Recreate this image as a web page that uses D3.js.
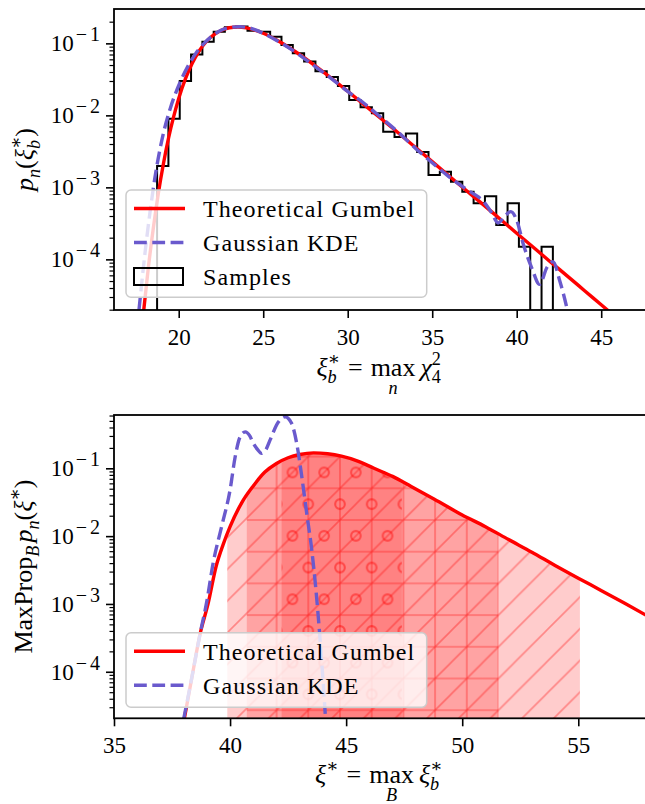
<!DOCTYPE html>
<meta charset="utf-8">
<style>
  body { margin: 0; background: #fff; }
  svg text { font-family: "Liberation Serif", "DejaVu Serif", serif; fill: #000; }
</style>
<script src="https://d3js.org/d3.v7.min.js"></script>
<svg id="chart" width="645" height="804"></svg>
<script>

// ---- top panel: histogram of samples (density), bin edges
var histEdges = [18.72, 19.39, 20.06, 20.73, 21.40, 22.07, 22.73, 23.40, 24.07, 24.74, 25.41, 26.08,
  26.75, 27.42, 28.09, 28.76, 29.42, 30.09, 30.76, 31.43, 32.10, 32.77, 33.44, 34.11, 34.78, 35.45,
  36.11, 36.78, 37.45, 38.12, 38.79, 39.46, 40.13, 40.80, 41.47, 42.14];
var histDensity = [0.00198, 0.0090, 0.030, 0.070, 0.105, 0.145, 0.168, 0.172, 0.150, 0.145, 0.124,
  0.095, 0.073, 0.056, 0.041, 0.034, 0.0255, 0.0163, 0.0130, 0.0107, 0.0059, 0.0050, 0.0056, 0.0031,
  0.00148, 0.00165, 0.0012, 0.00087, 0.0006, 0.00075, 0.0003, 0.0006, 0.00015, 0, 0.00015];

// theoretical gumbel, top
var gumTopX = [17.9, 18.2, 18.5, 18.8, 19.1, 19.4, 19.7, 20.0, 20.4, 20.8, 21.2, 21.6, 22.0, 22.5, 23.0,
  23.5, 24.0, 24.5, 25, 26, 27, 28, 29, 30, 31, 32, 33, 34, 35, 36, 37, 38, 39, 40, 41, 42, 43, 44, 45, 46];
var gumTopY = [1.7e-5, 7.6e-5, 2.75e-4, 8.4e-4, 2.16e-3, 4.85e-3, 9.6e-3, 0.0172, 0.0324, 0.0531, 0.0778,
  0.1036, 0.1275, 0.1512, 0.1649, 0.1687, 0.1639, 0.1527, 0.1379, 0.1044, 0.0740, 0.0503, 0.0333, 0.0216,
  0.0139, 0.0089, 0.0057, 0.0036, 0.00228, 0.00144, 0.00091, 0.00058, 0.000366, 0.000231, 0.000146,
  0.000092, 0.0000585, 0.000037, 0.0000234, 0.0000148];

// gaussian kde, top
var kdeTopX = [17.65, 18.0, 18.3, 18.6, 19.0, 19.5, 20.0, 20.5, 21.0, 21.5, 22.0, 22.5, 23.0, 23.6, 24.2,
  25, 26, 27, 28, 29, 30, 31, 32, 33, 34, 35, 36, 37, 37.5, 38.0, 38.5, 38.9, 39.3, 39.65, 40.0, 40.4,
  40.9, 41.35, 41.8, 42.15, 42.55, 42.95, 43.1];
var kdeTopY = [2e-5, 1.2e-4, 4.5e-4, 1.4e-3, 4.5e-3, 0.0125, 0.026, 0.046, 0.072, 0.1, 0.128, 0.152, 0.166,
  0.17, 0.163, 0.138, 0.103, 0.073, 0.049, 0.033, 0.0215, 0.0145, 0.0092, 0.0058, 0.0035, 0.0022, 0.0014,
  0.00095, 0.0008, 0.00065, 0.00045, 0.00032, 0.0004, 0.00046, 0.00035, 0.00016, 0.000075, 0.000045,
  0.000078, 0.000093, 0.00005, 0.000022, 0.000015];

// ---- bottom panel
var gumBotX = [38.0, 38.4, 38.7, 39.05, 39.4, 39.7, 40.0, 40.5, 41.0, 41.5, 42.0, 42.5, 43.0, 43.6, 44.2,
  44.8, 45.5, 46.2, 47.0, 47.8, 48.8, 50.0, 51.0, 52.0, 53.0, 54.0, 55.0, 56.0, 57.0, 58.0];
var gumBotY = [1.8e-5, 1e-4, 3.5e-4, 1e-3, 3.6e-3, 7.5e-3, 0.0138, 0.031, 0.055, 0.088, 0.118, 0.143, 0.16,
  0.169, 0.164, 0.151, 0.128, 0.1, 0.076, 0.054, 0.035, 0.0205, 0.0138, 0.0089, 0.0058, 0.0037, 0.0024,
  0.00157, 0.00102, 0.00066];

var kdeBotX = [38.0, 38.4, 38.7, 39.0, 39.27, 39.64, 40.0, 40.22, 40.43, 40.65, 40.85, 41.0, 41.18, 41.36,
  41.55, 41.72, 42.08, 42.37, 42.65, 42.87, 43.09, 43.3, 43.52, 43.7, 43.88, 44.1];
var kdeBotY = [2e-5, 1e-4, 3.5e-4, 1.1e-3, 4e-3, 0.014, 0.048, 0.148, 0.29, 0.345, 0.3, 0.234, 0.19, 0.166,
  0.19, 0.26, 0.48, 0.575, 0.46, 0.234, 0.075, 0.022, 0.0062, 0.0016, 0.00029, 0.000024];

// shaded intervals and their hatches
var bandStart = [39.88, 40.72, 42.22];
var bandEnd = [55.07, 51.56, 47.4];
var bandHatch = ["diag", "cross", "circ"];

var xTicksTop = [20, 25, 30, 35, 40, 45];
var xTicksBot = [35, 40, 45, 50, 55];
var yTicks = [1e-4, 1e-3, 1e-2, 1e-1];

var legendTop = ["Theoretical Gumbel", "Gaussian KDE", "Samples"];
var legendBot = ["Theoretical Gumbel", "Gaussian KDE"];

var RED = "#ff0000", KDE = "#6a5acd";

var svg = d3.select("#chart");
var left = 114, right = 647;

var xTop = d3.scaleLinear().domain([16.17, 47.71]).range([left, right]);
var yTop = d3.scaleLog().domain([1.98e-5, 0.3]).range([310, 9]);
var xBot = d3.scaleLinear().domain([35, 57.96]).range([left, right]);
var yBot = d3.scaleLog().domain([2.06e-5, 0.611]).range([718.3, 415]);

var defs = svg.append("defs");
function clipFor(id, x, y) {
  defs.append("clipPath").attr("id", id).append("rect")
    .attr("x", x.range()[0]).attr("y", y.range()[1])
    .attr("width", x.range()[1] - x.range()[0]).attr("height", y.range()[0] - y.range()[1]);
}
clipFor("clipTop", xTop, yTop);
clipFor("clipBot", xBot, yBot);

// hatch patterns (shared origin so the layers line up)
var P = 31.7, ox = 324.15, oy = 472.45;
var hs = "rgba(255,0,0,0.34)", hw = 1.6;
var pd = defs.append("pattern").attr("id", "diag").attr("patternUnits", "userSpaceOnUse")
  .attr("x", ox).attr("y", oy).attr("width", P).attr("height", P);
pd.append("path").attr("d", "M-2," + (P + 2) + "L" + (P + 2) + ",-2M-2,2L2,-2M" + (P - 2) + "," + (P + 2) + "L" + (P + 2) + "," + (P - 2))
  .attr("stroke", hs).attr("stroke-width", hw).attr("fill", "none");
var pc = defs.append("pattern").attr("id", "cross").attr("patternUnits", "userSpaceOnUse")
  .attr("x", ox).attr("y", oy).attr("width", P).attr("height", P);
pc.append("path").attr("d", "M" + P / 2 + ",0V" + P + "M0," + P / 2 + "H" + P)
  .attr("stroke", hs).attr("stroke-width", hw).attr("fill", "none");
var po = defs.append("pattern").attr("id", "circ").attr("patternUnits", "userSpaceOnUse")
  .attr("x", ox).attr("y", oy).attr("width", P).attr("height", 2 * P);
[[0, 0], [P, 0], [0, 2 * P], [P, 2 * P], [P / 2, P]].forEach(function(c) {
  po.append("circle").attr("cx", c[0]).attr("cy", c[1]).attr("r", 4.8)
    .attr("stroke", "rgba(255,0,0,0.45)").attr("stroke-width", 2.1).attr("fill", "none");
});

function pairs(xs, ys) { return xs.map(function(x, i) { return [x, ys[i]]; }); }

function lineGen(x, y) {
  return d3.line().x(function(d) { return x(d[0]); }).y(function(d) { return y(d[1]); })
    .curve(d3.curveMonotoneX);
}

// ---------- math-ish labels
function mathLabel(g, parts, size) {
  var x = 0, base = {x: 0, w: 0}, stackW = 0;
  parts.forEach(function(p) {
    var script = p.pos === "sup" || p.pos === "sub" || p.pos === "under";
    var fs = script ? size * 0.7 : size;
    var dy = p.pos === "sup" ? -size * 0.42 : p.pos === "sub" ? size * 0.28 : p.pos === "under" ? size * 0.68 : 0;
    var t = g.append("text").attr("font-size", fs).attr("y", dy)
      .attr("font-style", p.it ? "italic" : "normal").text(p.t);
    var w = t.node().getComputedTextLength();
    if (p.pos === "under") {
      t.attr("x", base.x + base.w / 2).attr("text-anchor", "middle");
      return;
    }
    x += p.gap || 0;
    t.attr("x", x);
    if (p.pos === "sup" || p.pos === "sub") {
      if (p.stack) { stackW = w; return; }
      x += Math.max(w, stackW); stackW = 0;
    } else { base = {x: x, w: w}; x += w; }
  });
  return x;
}
function placeLabel(parts, cx, cy, rotate) {
  var g = svg.append("g").attr("transform", "translate(" + cx + "," + cy + ")" + (rotate ? " rotate(-90)" : ""));
  var inner = g.append("g");
  var w = mathLabel(inner, parts, 26);
  inner.attr("transform", "translate(" + (-w / 2) + ",0)");
}

// ---------- axes
function drawAxes(x, y, xticks) {
  var y0 = y.range()[0], y1 = y.range()[1];
  var minors = [];
  for (var k = -6; k <= 0; k++) for (var m = 2; m <= 9; m++) {
    var v = m * Math.pow(10, k);
    if (v > y.domain()[0] && v < y.domain()[1]) minors.push(v);
  }
  var gy = svg.append("g").attr("transform", "translate(" + left + ",0)");
  gy.call(d3.axisLeft(y).tickValues(minors).tickSize(4.5).tickFormat(""));
  gy.selectAll("line").attr("stroke-width", 1.2);
  gy.select(".domain").remove();
  var gy2 = svg.append("g").attr("transform", "translate(" + left + ",0)");
  gy2.call(d3.axisLeft(y).tickValues(yTicks).tickSize(8).tickPadding(3).tickFormat(""));
  gy2.select(".domain").remove();
  gy2.selectAll("line").attr("stroke-width", 1.6);
  gy2.selectAll(".tick text").each(function(d) {
    var t = d3.select(this).attr("font-size", 23).attr("dy", "0.32em");
    t.append("tspan").text("10");
    t.append("tspan").attr("dy", -10).attr("dx", 2).attr("font-size", 20).attr("letter-spacing", 3)
      .text("\u2212" + Math.round(-Math.log10(d)));
  });
  var gx = svg.append("g").attr("transform", "translate(0," + y0 + ")");
  gx.call(d3.axisBottom(x).tickValues(xticks).tickSize(8).tickFormat(d3.format("d")));
  gx.select(".domain").remove();
  gx.selectAll("line").attr("stroke-width", 1.6);
  gx.selectAll("text").attr("font-size", 23).attr("y", 35).attr("dy", 0);
  svg.append("rect").attr("x", x.range()[0]).attr("y", y1)
    .attr("width", x.range()[1] - x.range()[0]).attr("height", y0 - y1)
    .attr("fill", "none").attr("stroke", "#000").attr("stroke-width", 1.8);
}

// ---------- legend
function drawLegend(box, labels, kinds) {
  var g = svg.append("g");
  g.append("rect").attr("x", box.x).attr("y", box.y).attr("width", box.w).attr("height", box.h)
    .attr("rx", 5).attr("fill", "rgba(255,255,255,0.8)").attr("stroke", "#cccccc").attr("stroke-width", 1.5);
  labels.forEach(function(lab, i) {
    var cy = box.y + 18.5 + i * 34;
    if (kinds[i] === "red") {
      g.append("line").attr("x1", 134).attr("x2", 185).attr("y1", cy).attr("y2", cy)
        .attr("stroke", RED).attr("stroke-width", 3.4);
    } else if (kinds[i] === "kde") {
      g.append("line").attr("x1", 134).attr("x2", 185).attr("y1", cy).attr("y2", cy)
        .attr("stroke", KDE).attr("stroke-width", 3.4).attr("stroke-dasharray", "12.8,5.5");
    } else {
      g.append("rect").attr("x", 134).attr("y", cy - 8.5).attr("width", 49).attr("height", 17)
        .attr("fill", "none").attr("stroke", "#000").attr("stroke-width", 2);
    }
    g.append("text").attr("x", 203).attr("y", cy + 8.4).attr("font-size", 24)
      .attr("letter-spacing", 1.1).text(lab);
  });
}

// ================= TOP PANEL
var gTop = svg.append("g").attr("clip-path", "url(#clipTop)");
var steps = [[histEdges[0], 0]];
histDensity.forEach(function(v, i) { steps.push([histEdges[i], v]); steps.push([histEdges[i + 1], v]); });
steps.push([histEdges[histEdges.length - 1], 0]);
gTop.append("path")
  .attr("d", d3.line().x(function(d) { return xTop(d[0]); })
    .y(function(d) { return d[1] > 0 ? yTop(d[1]) : 340; })(steps))
  .attr("fill", "none").attr("stroke", "#000").attr("stroke-width", 2);
gTop.append("path").attr("d", lineGen(xTop, yTop)(pairs(gumTopX, gumTopY)))
  .attr("fill", "none").attr("stroke", RED).attr("stroke-width", 3.4);
gTop.append("path").attr("d", lineGen(xTop, yTop)(pairs(kdeTopX, kdeTopY)))
  .attr("fill", "none").attr("stroke", KDE).attr("stroke-width", 3.4).attr("stroke-dasharray", "12.8,5.5");

drawAxes(xTop, yTop, xTicksTop);
drawLegend({x: 126, y: 190, w: 300.7, h: 107.3}, legendTop, ["red", "kde", "box"]);

placeLabel([{t: "p", it: 1}, {t: "n", it: 1, pos: "sub"}, {t: "("}, {t: "\u03be", it: 1},
  {t: "\u2217", pos: "sup", stack: 1}, {t: "b", it: 1, pos: "sub"}, {t: ")"}], 33, 159.5, true);
placeLabel([{t: "\u03be", it: 1}, {t: "\u2217", pos: "sup", stack: 1}, {t: "b", it: 1, pos: "sub"},
  {t: "=", gap: 8}, {t: "max", gap: 8}, {t: "n", it: 1, pos: "under"}, {t: "\u03c7", it: 1, gap: 5},
  {t: "2", pos: "sup", stack: 1}, {t: "4", pos: "sub"}], 378.7, 376, false);

// ================= BOTTOM PANEL
var gBot = svg.append("g").attr("clip-path", "url(#clipBot)");
var gumArea = d3.area().x(function(d) { return xBot(d[0]); }).y0(yBot.range()[0])
  .y1(function(d) { return yBot(d[1]); }).curve(d3.curveMonotoneX);
bandStart.forEach(function(a, i) {
  var id = "band" + i;
  defs.append("clipPath").attr("id", id).append("rect")
    .attr("x", xBot(a)).attr("y", yBot.range()[1])
    .attr("width", xBot(bandEnd[i]) - xBot(a)).attr("height", yBot.range()[0] - yBot.range()[1]);
  var gb = gBot.append("g").attr("clip-path", "url(#" + id + ")");
  gb.append("path").attr("d", gumArea(pairs(gumBotX, gumBotY))).attr("fill", "rgba(255,0,0,0.2)");
  gb.append("path").attr("d", gumArea(pairs(gumBotX, gumBotY))).attr("fill", "url(#" + bandHatch[i] + ")");
});
gBot.append("path").attr("d", lineGen(xBot, yBot)(pairs(gumBotX, gumBotY)))
  .attr("fill", "none").attr("stroke", RED).attr("stroke-width", 3.4);
gBot.append("path").attr("d", lineGen(xBot, yBot)(pairs(kdeBotX, kdeBotY)))
  .attr("fill", "none").attr("stroke", KDE).attr("stroke-width", 3.4).attr("stroke-dasharray", "12.8,5.5");

drawAxes(xBot, yBot, xTicksBot);
drawLegend({x: 126, y: 632.7, w: 300.7, h: 74.6}, legendBot, ["red", "kde"]);

placeLabel([{t: "MaxProp"}, {t: "B", it: 1, pos: "sub"}, {t: "p", it: 1, gap: 3}, {t: "n", it: 1, pos: "sub"},
  {t: "("}, {t: "\u03be", it: 1}, {t: "\u2217", pos: "sup"}, {t: ")"}], 32, 566.6, true);
placeLabel([{t: "\u03be", it: 1}, {t: "\u2217", pos: "sup"}, {t: "=", gap: 8}, {t: "max", gap: 8},
  {t: "B", it: 1, pos: "under"}, {t: "\u03be", it: 1, gap: 5}, {t: "\u2217", pos: "sup", stack: 1},
  {t: "b", it: 1, pos: "sub"}], 378.7, 783, false);

</script>
